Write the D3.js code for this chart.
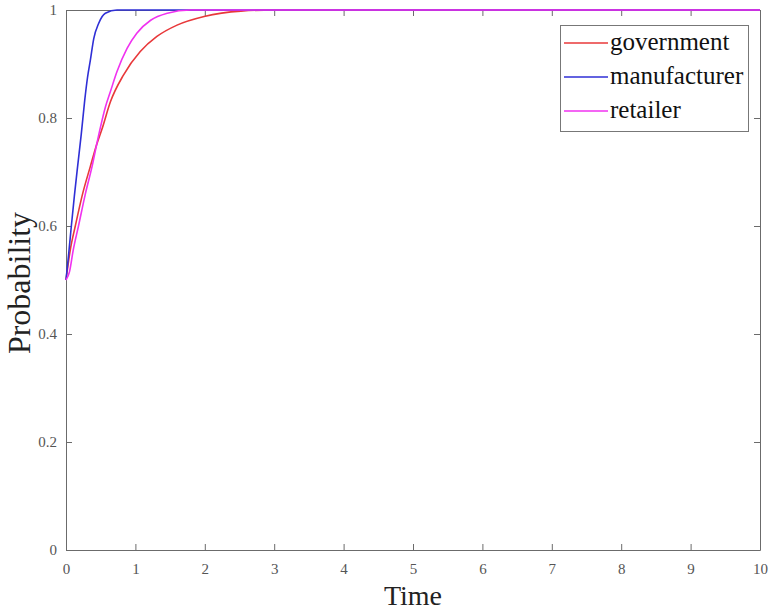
<!DOCTYPE html>
<html><head><meta charset="utf-8">
<script src="https://cdn.jsdelivr.net/npm/d3@7"></script>
<style>body{margin:0;background:#fff}svg{display:block}</style>
</head><body>
<svg id="c" width="769" height="611"></svg>
<script>
const seriesNames = ["government", "manufacturer", "retailer"];
const seriesColors = ["#e8383a", "#2f2fd6", "#f032f0"];
const timeGov = [0,0.062,0.134,0.24,0.35,0.44,0.52,0.64,0.83,1.07,1.31,1.6,1.99,2.52,3.0,10];
const government = [0.5,0.556,0.6,0.66,0.71,0.75,0.78,0.83,0.88,0.923,0.951,0.972,0.988,0.998,1,1];
const timeMan = [0,0.04,0.077,0.12,0.167,0.22,0.27,0.31,0.351,0.40,0.47,0.567,0.735,10];
const manufacturer = [0.5,0.55,0.6,0.655,0.71,0.77,0.833,0.875,0.907,0.947,0.975,0.994,1,1];
const timeRet = [0,0.05,0.105,0.18,0.28,0.375,0.44,0.5,0.567,0.64,0.735,0.88,1.02,1.22,1.46,1.79,10];
const retailer = [0.5,0.515,0.556,0.6,0.66,0.71,0.75,0.785,0.82,0.849,0.886,0.929,0.957,0.981,0.994,1,1];
const xTicks = [0,1,2,3,4,5,6,7,8,9,10];
const yTicks = [0,0.2,0.4,0.6,0.8,1];

const svg = d3.select("#c");
const L = 66, R = 760, T = 10, B = 550;
const x = d3.scaleLinear().domain([0,10]).range([L,R]);
const y = d3.scaleLinear().domain([0,1]).range([B,T]);
const axisCol = "#6b6b6b";
const font = "'Liberation Serif','Times New Roman',serif";

function styleAxis(g){
  g.select(".domain").attr("stroke", axisCol);
  g.selectAll(".tick line").attr("stroke", axisCol);
  g.selectAll(".tick text").attr("fill", "#555").attr("font-family", font).attr("font-size", 15);
}
svg.append("g").attr("transform",`translate(0,${B})`)
  .call(d3.axisBottom(x).tickValues(xTicks).tickSizeInner(-6).tickSizeOuter(0).tickPadding(13).tickFormat(d3.format("d")))
  .call(styleAxis);
svg.append("g").attr("transform",`translate(0,${T})`)
  .call(d3.axisTop(x).tickValues(xTicks).tickSizeInner(-6).tickSizeOuter(0).tickFormat(""))
  .call(styleAxis);
svg.append("g").attr("transform",`translate(${L},0)`)
  .call(d3.axisLeft(y).tickValues(yTicks).tickSizeInner(-6).tickSizeOuter(0).tickPadding(9).tickFormat(d=>d===0||d===1?String(d):d3.format(".1f")(d)))
  .call(styleAxis);
svg.append("g").attr("transform",`translate(${R},0)`)
  .call(d3.axisRight(y).tickValues(yTicks).tickSizeInner(-6).tickSizeOuter(0).tickFormat(""))
  .call(styleAxis);

const line = d3.line().x(d=>x(d[0])).y(d=>y(d[1])).curve(d3.curveMonotoneX);
const data = [
  timeGov.map((t,i)=>[t,government[i]]),
  timeMan.map((t,i)=>[t,manufacturer[i]]),
  timeRet.map((t,i)=>[t,retailer[i]])
];
[0,1,2].forEach(i=>{
  svg.append("path").datum(data[i]).attr("d", line)
    .attr("fill","none").attr("stroke", seriesColors[i]).attr("stroke-width", 1.6);
});

// legend
const lg = svg.append("g");
lg.append("rect").attr("x",560.5).attr("y",25.5).attr("width",188).attr("height",106)
  .attr("fill","#fff").attr("stroke","#777").attr("stroke-width",1);
seriesNames.forEach((n,i)=>{
  const yy = 43 + i*34;
  lg.append("line").attr("x1",564).attr("x2",608).attr("y1",yy).attr("y2",yy)
    .attr("stroke",seriesColors[i]).attr("stroke-width",1.6);
  lg.append("text").attr("x",610).attr("y",yy+7).text(n)
    .attr("font-family",font).attr("font-size",25).attr("fill","#111");
});

svg.append("text").attr("x",(L+R)/2).attr("y",605).attr("text-anchor","middle")
  .attr("font-family",font).attr("font-size",28).attr("fill","#222").text("Time");
svg.append("text").attr("transform",`translate(30,${(T+B)/2 + 3}) rotate(-90)`).attr("text-anchor","middle")
  .attr("font-family",font).attr("font-size",32).attr("fill","#222").text("Probability");
</script>
</body></html>
